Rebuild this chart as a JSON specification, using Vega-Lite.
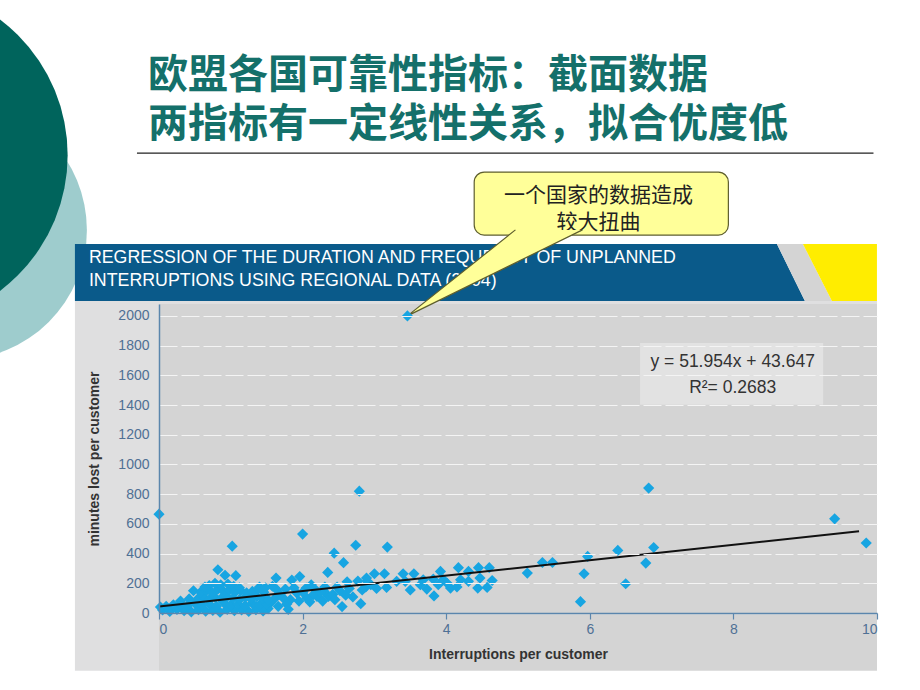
{
  "$schema": "https://vega.github.io/schema/vega-lite/v6.json",
  "width": 718,
  "height": 309,
  "autosize": {"type": "none"},
  "padding": {"left": 159, "top": 304, "right": 43, "bottom": 77},
  "background": "#ffffff",
  "config": {
    "view": {"fill": "#d4d4d4", "stroke": null},
    "axis": {"labelFont": "Liberation Sans", "titleFont": "Liberation Sans"},
    "axisX": {"tickCount": 5, "format": "d", "grid": false,
      "domainColor": "#5b86ad", "domainWidth": 1.5, "tickColor": "#5b86ad", "tickSize": 6, "tickWidth": 1.2,
      "labelColor": "#4f7094", "labelFontSize": 14, "labelPadding": 3, "titleFontSize": 14, "titleFontWeight": "bold",
      "titleColor": "#333333", "titlePadding": 11},
    "axisY": {"tickCount": 10, "format": "d", "grid": true, "gridColor": "#f4f4f4", "gridDash": [18, 4], "gridWidth": 1.2, "ticks": false,
      "domainColor": "#5b86ad", "domainWidth": 1.5, "labelColor": "#4f7094", "labelFontSize": 14, "labelPadding": 10,
      "titleFontSize": 14, "titleFontWeight": "bold", "titleColor": "#333333", "titlePadding": 16}
  },
  "datasets": {
    "pts": [
      {"x": 0, "y": 665}, {"x": 3.46, "y": 2000}, {"x": 2.79, "y": 820}, {"x": 6.82, "y": 841},
      {"x": 9.41, "y": 634}, {"x": 9.85, "y": 471}, {"x": 2.0, "y": 531}, {"x": 1.02, "y": 450},
      {"x": 2.74, "y": 456}, {"x": 3.18, "y": 444}, {"x": 2.44, "y": 403}, {"x": 2.57, "y": 339},
      {"x": 2.35, "y": 273}, {"x": 0.82, "y": 291}, {"x": 0.92, "y": 254}, {"x": 1.07, "y": 251},
      {"x": 0.48, "y": 150}, {"x": 1.63, "y": 235}, {"x": 1.96, "y": 245}, {"x": 1.85, "y": 222},
      {"x": 2.70, "y": 108}, {"x": 2.55, "y": 43}, {"x": 2.81, "y": 63}, {"x": 2.62, "y": 210},
      {"x": 2.77, "y": 215}, {"x": 2.90, "y": 213}, {"x": 2.89, "y": 235}, {"x": 3.0, "y": 264},
      {"x": 3.14, "y": 264}, {"x": 3.40, "y": 264}, {"x": 3.55, "y": 264}, {"x": 3.92, "y": 280},
      {"x": 4.17, "y": 305}, {"x": 4.31, "y": 280}, {"x": 4.45, "y": 305}, {"x": 4.60, "y": 305},
      {"x": 3.83, "y": 115}, {"x": 3.50, "y": 155}, {"x": 3.03, "y": 165}, {"x": 3.17, "y": 172},
      {"x": 3.31, "y": 213}, {"x": 3.43, "y": 213}, {"x": 3.64, "y": 190}, {"x": 3.73, "y": 161},
      {"x": 3.89, "y": 190}, {"x": 3.96, "y": 224}, {"x": 3.68, "y": 224}, {"x": 3.82, "y": 228},
      {"x": 4.01, "y": 202}, {"x": 4.06, "y": 168}, {"x": 4.15, "y": 175}, {"x": 4.20, "y": 224},
      {"x": 4.31, "y": 213}, {"x": 4.44, "y": 168}, {"x": 4.47, "y": 235}, {"x": 4.57, "y": 172},
      {"x": 4.64, "y": 219}, {"x": 5.13, "y": 269}, {"x": 5.34, "y": 340}, {"x": 5.48, "y": 340},
      {"x": 5.87, "y": 76}, {"x": 5.92, "y": 264}, {"x": 5.97, "y": 381}, {"x": 6.39, "y": 421},
      {"x": 6.50, "y": 197}, {"x": 6.78, "y": 336}, {"x": 6.89, "y": 441}, {"x": 2.88, "y": 175},
      {"x": 2.05, "y": 168}, {"x": 2.17, "y": 161}, {"x": 2.31, "y": 175}, {"x": 2.48, "y": 175},
      {"x": 2.36, "y": 112}, {"x": 2.20, "y": 112}, {"x": 2.06, "y": 101}, {"x": 1.92, "y": 134},
      {"x": 1.76, "y": 161}, {"x": 1.73, "y": 101}, {"x": 1.62, "y": 101}, {"x": 1.64, "y": 157},
      {"x": 1.83, "y": 90}, {"x": 1.55, "y": 67}, {"x": 2.30, "y": 145}, {"x": 2.15, "y": 123},
      {"x": 1.58, "y": 180}, {"x": 1.68, "y": 125}, {"x": 1.78, "y": 60}, {"x": 1.88, "y": 170},
      {"x": 1.95, "y": 80}, {"x": 2.0, "y": 140}, {"x": 2.1, "y": 75}, {"x": 2.12, "y": 190},
      {"x": 2.25, "y": 140}, {"x": 2.28, "y": 80}, {"x": 2.42, "y": 125}, {"x": 2.45, "y": 90},
      {"x": 2.52, "y": 150}, {"x": 2.6, "y": 120}, {"x": 1.52, "y": 30}, {"x": 1.66, "y": 45},
      {"x": 1.8, "y": 25}, {"x": 2.65, "y": 165}, {"x": 2.95, "y": 190}, {"x": 2.83, "y": 155},
      {"x": 0.05, "y": 20}, {"x": 0.15, "y": 10}, {"x": 0.25, "y": 25}, {"x": 0.35, "y": 15},
      {"x": 0.45, "y": 8}, {"x": 0.55, "y": 22}, {"x": 0.65, "y": 12}, {"x": 0.75, "y": 18},
      {"x": 0.85, "y": 5}, {"x": 0.95, "y": 25}, {"x": 1.05, "y": 15}, {"x": 1.15, "y": 20},
      {"x": 1.25, "y": 10}, {"x": 1.35, "y": 22}, {"x": 1.45, "y": 14},
      {"x": 0.02, "y": 40}, {"x": 0.1, "y": 45}, {"x": 0.2, "y": 55}, {"x": 0.3, "y": 60},
      {"x": 0.4, "y": 50}, {"x": 0.5, "y": 65}, {"x": 0.6, "y": 55}, {"x": 0.7, "y": 60},
      {"x": 0.8, "y": 45}, {"x": 0.9, "y": 70}, {"x": 1.0, "y": 55}, {"x": 1.1, "y": 60},
      {"x": 1.2, "y": 50}, {"x": 1.3, "y": 65}, {"x": 1.4, "y": 55}, {"x": 1.5, "y": 60},
      {"x": 0.3, "y": 80}, {"x": 0.42, "y": 95}, {"x": 0.55, "y": 100}, {"x": 0.62, "y": 110},
      {"x": 0.7, "y": 90}, {"x": 0.78, "y": 105}, {"x": 0.86, "y": 95}, {"x": 0.95, "y": 110},
      {"x": 1.03, "y": 100}, {"x": 1.12, "y": 90}, {"x": 1.2, "y": 105}, {"x": 1.28, "y": 95},
      {"x": 1.36, "y": 110}, {"x": 1.45, "y": 100}, {"x": 1.52, "y": 90},
      {"x": 0.58, "y": 140}, {"x": 0.66, "y": 150}, {"x": 0.74, "y": 135}, {"x": 0.82, "y": 160},
      {"x": 0.9, "y": 145}, {"x": 0.98, "y": 155}, {"x": 1.06, "y": 140}, {"x": 1.14, "y": 150},
      {"x": 1.22, "y": 135}, {"x": 1.3, "y": 145}, {"x": 1.38, "y": 160}, {"x": 1.46, "y": 140},
      {"x": 0.7, "y": 185}, {"x": 0.78, "y": 200}, {"x": 0.86, "y": 190}, {"x": 0.96, "y": 195},
      {"x": 1.04, "y": 180}, {"x": 1.12, "y": 170}, {"x": 1.4, "y": 175}, {"x": 1.48, "y": 170},
      {"x": 0.64, "y": 175}
    ],
    "fit": [{"x": 0, "y": 43.647}, {"x": 9.75, "y": 550.2}]
  },
  "layer": [
    {
      "data": {"values": [{}]},
      "mark": {"type": "point", "shape": "circle", "filled": true, "opacity": 1, "size": 67600, "color": "#9ecccd", "strokeWidth": 0, "clip": false},
      "encoding": {
        "x": {"datum": -2.815, "type": "quantitative", "scale": {"domain": [0, 10], "nice": false, "zero": false}, "title": "Interruptions per customer", "axis": {"zindex": 1}},
        "y": {"datum": 2578, "type": "quantitative", "scale": {"domain": [0, 2080], "nice": false}, "title": "minutes lost per customer", "axis": {"zindex": 1}}
      }
    },
    {
      "data": {"values": [{}]},
      "mark": {"type": "point", "shape": "circle", "filled": true, "opacity": 1, "size": 115600, "color": "#00645c", "strokeWidth": 0, "clip": false},
      "encoding": {
        "x": {"datum": -3.64, "type": "quantitative"},
        "y": {"datum": 3082, "type": "quantitative"}
      }
    },
    {
      "data": {"values": [{}]},
      "mark": {"type": "text", "text": "欧盟各国可靠性指标：截面数据\n两指标有一定线性关系，拟合优度低", "lineBreak": "\n", "lineHeight": 49, "align": "left", "baseline": "middle", "font": "Noto Sans CJK SC", "fontSize": 40, "fontWeight": "bold", "color": "#14706a", "clip": false},
      "encoding": {
        "x": {"datum": -0.153, "type": "quantitative"},
        "y": {"datum": 3615, "type": "quantitative"}
      }
    },
    {
      "data": {"values": [{}]},
      "mark": {"type": "rule", "color": "#222222", "strokeWidth": 1.2, "clip": false},
      "encoding": {
        "x": {"datum": -0.307, "type": "quantitative"},
        "x2": {"datum": 9.951},
        "y": {"datum": 3095, "type": "quantitative"}
      }
    },
    {
      "data": {"values": [{}]},
      "mark": {"type": "rect", "color": "#dfdfe0", "clip": false},
      "encoding": {
        "x": {"datum": -1.171, "type": "quantitative"},
        "x2": {"datum": 0},
        "y": {"datum": -388, "type": "quantitative"},
        "y2": {"datum": 2100}
      }
    },
    {
      "data": {"values": [{}]},
      "mark": {"type": "rect", "color": "#dfdfe0", "clip": false},
      "encoding": {
        "x": {"datum": 0, "type": "quantitative"},
        "x2": {"datum": 10},
        "y": {"datum": 2080, "type": "quantitative"},
        "y2": {"datum": 2100}
      }
    },
    {
      "data": {"values": [{}]},
      "mark": {"type": "rect", "color": "#d4d4d4", "clip": false},
      "encoding": {
        "x": {"datum": 0, "type": "quantitative"},
        "x2": {"datum": 10},
        "y": {"datum": -388, "type": "quantitative"},
        "y2": {"datum": -8}
      }
    },
    {
      "data": {"values": [{}]},
      "mark": {"type": "point", "shape": "M0,0L0,-0.57L7.02,-0.57L7.30,0Z", "filled": true, "opacity": 1, "size": 40000, "color": "#0a5a8a", "strokeWidth": 0, "clip": false},
      "encoding": {
        "x": {"datum": -1.171, "type": "quantitative"},
        "y": {"datum": 2100, "type": "quantitative"}
      }
    },
    {
      "data": {"values": [{}]},
      "mark": {"type": "point", "shape": "M7.02,-0.57L7.28,-0.57L7.57,0L7.30,0Z", "filled": true, "opacity": 1, "size": 40000, "color": "#d4d4d4", "strokeWidth": 0, "clip": false},
      "encoding": {
        "x": {"datum": -1.171, "type": "quantitative"},
        "y": {"datum": 2100, "type": "quantitative"}
      }
    },
    {
      "data": {"values": [{}]},
      "mark": {"type": "point", "shape": "M7.28,-0.57L8.02,-0.57L8.02,0L7.57,0Z", "filled": true, "opacity": 1, "size": 40000, "color": "#ffed00", "strokeWidth": 0, "clip": false},
      "encoding": {
        "x": {"datum": -1.171, "type": "quantitative"},
        "y": {"datum": 2100, "type": "quantitative"}
      }
    },
    {
      "data": {"values": [{}]},
      "mark": {"type": "text", "text": "REGRESSION OF THE DURATION AND FREQUENCY OF UNPLANNED\nINTERRUPTIONS USING REGIONAL DATA (2004)", "lineBreak": "\n", "lineHeight": 23, "align": "left", "baseline": "middle", "font": "Liberation Sans", "fontSize": 17.8, "color": "#ffffff", "clip": false},
      "encoding": {
        "x": {"datum": -0.976, "type": "quantitative"},
        "y": {"datum": 2389, "type": "quantitative"}
      }
    },
    {
      "data": {"values": [{}]},
      "mark": {"type": "rect", "cornerRadius": 10, "fill": "#ffff99", "stroke": "#5e5e2e", "strokeWidth": 1.2, "clip": false},
      "encoding": {
        "x": {"datum": 4.39, "type": "quantitative"},
        "x2": {"datum": 7.93},
        "y": {"datum": 2544, "type": "quantitative"},
        "y2": {"datum": 2968}
      }
    },
    {
      "data": {"values": [{}]},
      "mark": {"type": "text", "text": "一个国家的数据造成\n较大扭曲", "lineBreak": "\n", "lineHeight": 27, "align": "center", "baseline": "middle", "font": "Noto Sans CJK SC", "fontSize": 21, "color": "#222222", "clip": false},
      "encoding": {
        "x": {"datum": 6.12, "type": "quantitative"},
        "y": {"datum": 2806, "type": "quantitative"}
      }
    },
    {
      "data": {"values": [{}]},
      "mark": {"type": "rect", "color": "#e2e2e2"},
      "encoding": {
        "x": {"datum": 6.70, "type": "quantitative"},
        "x2": {"datum": 9.25},
        "y": {"datum": 1401, "type": "quantitative"},
        "y2": {"datum": 1818}
      }
    },
    {
      "data": {"values": [{}]},
      "mark": {"type": "text", "text": "y = 51.954x + 43.647\nR²= 0.2683", "lineBreak": "\n", "lineHeight": 26, "align": "center", "baseline": "middle", "font": "Liberation Sans", "fontSize": 17.5, "color": "#333333"},
      "encoding": {
        "x": {"datum": 7.99, "type": "quantitative"},
        "y": {"datum": 1690, "type": "quantitative"}
      }
    },
    {
      "data": {"name": "pts"},
      "transform": [{"filter": "datum.y > 1900"}],
      "mark": {"type": "point", "shape": "M1.08,-0.86L0,0L1.75,-0.86", "filled": true, "opacity": 1, "size": 40000, "fill": "#ffff99", "stroke": "#5e5e2e", "strokeWidth": 1.2, "clip": false},
      "encoding": {
        "x": {"field": "x", "type": "quantitative", "title": "Interruptions per customer"},
        "y": {"field": "y", "type": "quantitative", "title": "minutes lost per customer"}
      }
    },
    {
      "data": {"name": "pts"},
      "mark": {"type": "point", "shape": "diamond", "filled": true, "opacity": 1, "size": 125, "color": "#17a5e2", "strokeWidth": 0},
      "encoding": {
        "x": {"field": "x", "type": "quantitative", "title": "Interruptions per customer", "axis": {"zindex": 1}},
        "y": {"field": "y", "type": "quantitative", "title": "minutes lost per customer", "axis": {"zindex": 1}}
      }
    },
    {
      "data": {"name": "fit"},
      "mark": {"type": "line", "color": "#111111", "strokeWidth": 2},
      "encoding": {
        "x": {"field": "x", "type": "quantitative", "title": "Interruptions per customer"},
        "y": {"field": "y", "type": "quantitative", "title": "minutes lost per customer"}
      }
    }
  ]
}
